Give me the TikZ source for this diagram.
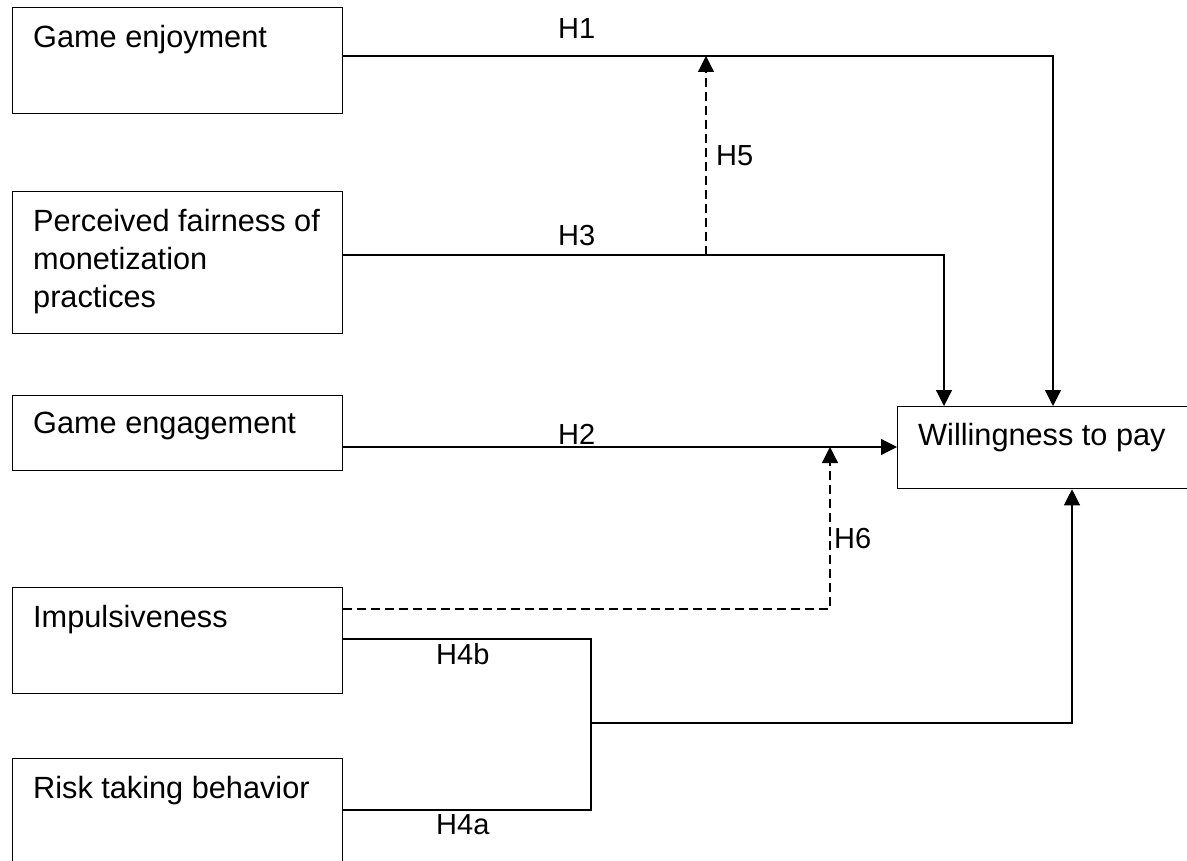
\documentclass[tikz,border=0pt]{standalone}
\usepackage{fontspec}
\setmainfont{Liberation Sans}
\usetikzlibrary{arrows.meta}
\begin{document}
\begin{tikzpicture}[x=1pt,y=-1pt,
  box/.style={draw=black, line width=1.3pt, rectangle, anchor=north west, inner sep=0pt},
  txt/.style={anchor=base west, inner sep=0pt, font=\fontsize{30.7}{38}\selectfont},
  lab/.style={anchor=base west, inner sep=0pt, font=\fontsize{29}{36}\selectfont},
  link/.style={line width=1.2pt},
  arr/.style={link, -{Triangle[length=16pt,width=16pt]}},
  darr/.style={arr, dash pattern=on 9pt off 5pt}]
\clip (0,0) rectangle (1187,861);
% boxes
\node[box, minimum width=330pt, minimum height=106pt] (b1) at (12,7) {};
\node[box, minimum width=330pt, minimum height=142pt] (b2) at (12,191) {};
\node[box, minimum width=330pt, minimum height=75pt] (b3) at (12,395) {};
\node[box, minimum width=330pt, minimum height=106pt] (b4) at (12,587) {};
\node[box, minimum width=330pt, minimum height=130pt] (b5) at (12,758) {};
\node[box, minimum width=310pt, minimum height=82pt] (w) at (897,406) {};
% box texts
\node[txt] (t1) at (33,48) {Game enjoyment};
\node[txt] (t2a) at (33,232) {Perceived fairness of};
\node[txt] (t2b) at (33,270) {monetization};
\node[txt] (t2c) at (33,308) {practices};
\node[txt] (t3) at (33,433) {Game engagement};
\node[txt] (t4) at (33,627) {Impulsiveness};
\node[txt] (t5) at (33,798) {Risk taking behavior};
\node[txt] (tw) at (918,445) {Willingness to pay};
% junction coordinates
\coordinate (p1) at (1053,56);
\coordinate (p3) at (944,255);
\coordinate (m5) at (706,255);
\coordinate (p2) at (897,447);
\coordinate (p6) at (830,609);
\coordinate (j1) at (591,639);
\coordinate (j2) at (591,810);
\coordinate (j) at (591,723);
\coordinate (q) at (1072,723);
% connectors
\draw[arr] (b1.east |- p1) -- (p1) -- (w.north -| p1);
\draw[arr] (b2.east |- p3) -- (p3) -- (w.north -| p3);
\draw[darr] (m5) -- (m5 |- p1);
\draw[arr] (b3.east |- p2) -- (p2);
\draw[darr] (b4.east |- p6) -- (p6) -- (p6 |- p2);
\draw[link] (b4.east |- j1) -- (j1) -- (j2) -- (b5.east |- j2);
\draw[arr] (j) -- (q) -- (w.south -| q);
% labels
\node[lab] (h1) at (558,39) {H1};
\node[lab] (h3) at (558,246) {H3};
\node[lab] (h2) at (558,444) {H2};
\node[lab] (h5) at (716,166) {H5};
\node[lab] (h6) at (834,548) {H6};
\node[lab] (h4b) at (436,664) {H4b};
\node[lab] (h4a) at (436,834) {H4a};
\end{tikzpicture}
\end{document}
